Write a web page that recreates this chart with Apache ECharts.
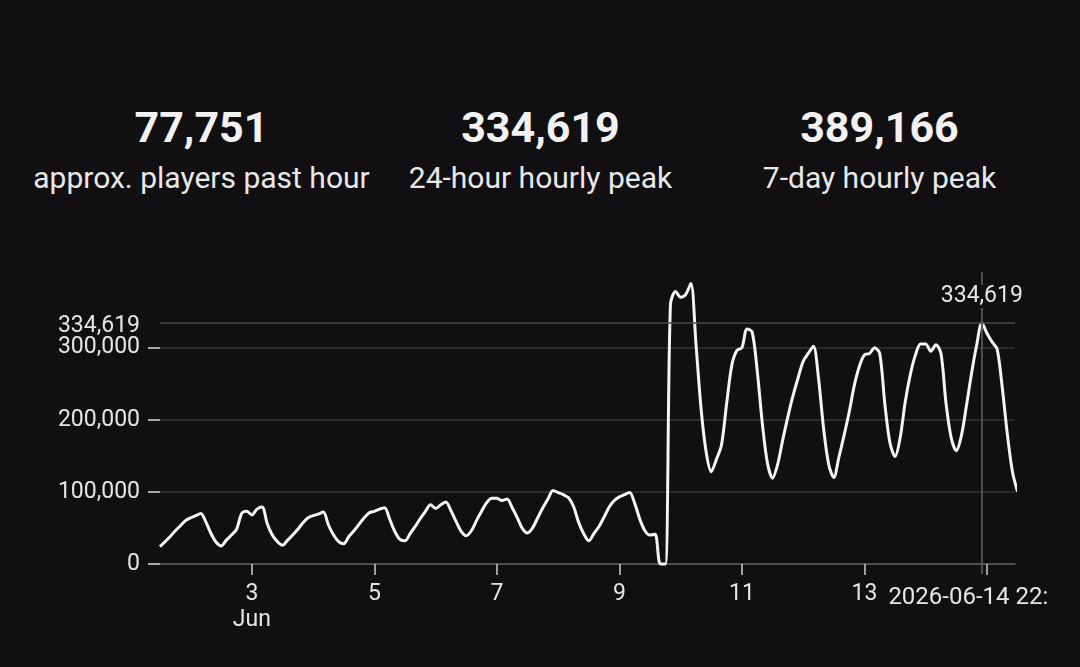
<!DOCTYPE html>
<html>
<head>
<meta charset="utf-8">
<title>Players</title>
<script src="https://cdn.jsdelivr.net/npm/echarts@6/dist/echarts.min.js"></script>
<style>
  html, body { margin: 0; padding: 0; background: #110f11; width: 1080px; height: 667px; overflow: hidden; font-family: Roboto, "Noto Sans", sans-serif; }
  .stat { position: absolute; top: 0; width: 339px; height: 220px; text-align: center; }
  .stat .num { position: absolute; left: 0; width: 100%; top: 106px; font-size: 43px; line-height: 43px; font-weight: 700; color: #f2f2f2; }
  .stat .lbl { position: absolute; left: 0; width: 100%; top: 163px; font-size: 30px; line-height: 30px; color: #e8e8e8; white-space: nowrap; }
  #main { position: absolute; left: 32px; top: 250px; width: 1017px; height: 417px; }
</style>
</head>
<body>
<div id="stats"></div>
<div id="main"></div>
<script>
// header numbers
var statValues = ['77,751', '334,619', '389,166'];
var statLabels = ['approx. players past hour', '24-hour hourly peak', '7-day hourly peak'];

// players, one value every 2 hours from 2026-06-01 12:00
var startTime = Date.UTC(2026, 5, 1, 12);
var endTime = Date.UTC(2026, 5, 15, 11);
var stepHours = 2;
var players = [
    24000, 31000, 38000, 46000, 53000, 60000, 64000, 67000, 70000, 58000, 42000, 30000,
    25000, 33000, 40000, 48000, 70000, 73000, 68000, 76000, 79000, 56000, 40000, 31000,
    26000, 33000, 40000, 48000, 57000, 64000, 67000, 69000, 72000, 54000, 40000, 31000,
    28000, 38000, 46000, 55000, 64000, 71000, 73000, 76000, 78000, 62000, 45000, 34000,
    32000, 42000, 52000, 63000, 73000, 82000, 77000, 82000, 86000, 74000, 59000, 45000,
    39000, 46000, 60000, 73000, 85000, 91000, 91000, 88000, 90000, 78000, 64000, 49000,
    43000, 50000, 64000, 78000, 90000, 102000, 99000, 96000, 92000, 80000, 58000, 42000,
    32000, 42000, 52000, 65000, 79000, 88000, 93000, 96000, 99000, 84000, 62000, 46000,
    40000, 41000, 0, 0, 360000, 378000, 370000, 374000, 389166, 305000, 215000, 155000,
    128000, 145000, 165000, 222000, 275000, 296000, 300000, 326000, 322000, 268000, 195000, 140000,
    119000, 138000, 172000, 204000, 233000, 258000, 281000, 292000, 302000, 258000, 188000, 138000,
    120000, 148000, 178000, 210000, 247000, 274000, 290000, 292000, 300000, 292000, 222000, 168000,
    149000, 175000, 225000, 263000, 290000, 305000, 305000, 295000, 304000, 292000, 222000, 175000,
    157000, 178000, 220000, 265000, 304000, 334619, 320000, 308000, 298000, 245000, 180000, 128000,
    100000
];

// axis ticks
var tickDays = [3, 5, 7, 9, 11, 13, 15];
var labelDays = [3, 5, 7, 9, 11, 13];
var yTicks = [0, 100000, 200000, 300000];

var HOUR = 3600 * 1000;
var points = players.map(function (v, i) {
    return [startTime + i * stepHours * HOUR, v];
});

// 24-hour peak for the crosshair
var last24 = points.slice(-12);
var peak = last24[0];
last24.forEach(function (p) { if (p[1] > peak[1]) peak = p; });

function fmtNum(v) {
    return Math.round(v).toLocaleString('en-US');
}
function pad(n) {
    return (n < 10 ? '0' : '') + n;
}
function fmtDate(t) {
    var d = new Date(t);
    return d.getUTCFullYear() + '-' + pad(d.getUTCMonth() + 1) + '-' + pad(d.getUTCDate()) +
        ' ' + pad(d.getUTCHours()) + ':' + pad(d.getUTCMinutes());
}
function dayTime(day) {
    return Date.UTC(2026, 5, day);
}

var statsBox = document.getElementById('stats');
for (var i = 0; i < statValues.length; i++) {
    var el = document.createElement('div');
    el.className = 'stat';
    el.style.left = (32 + i * 339) + 'px';
    el.innerHTML = '<div class="num">' + statValues[i] + '</div><div class="lbl">' + statLabels[i] + '</div>';
    statsBox.appendChild(el);
}

var font = 'Roboto';
var crossColor = '#555555';

var myChart = echarts.init(document.getElementById('main'));
var option = {
    backgroundColor: 'transparent',
    animation: false,
    grid: {
        left: 128,
        right: 34,
        top: 22,
        bottom: 93,
        containLabel: false,
        outerBoundsMode: 'none'
    },
    xAxis: {
        type: 'value',
        min: startTime,
        max: endTime,
        axisLine: {
            onZero: true,
            lineStyle: { color: '#5e5e5e', width: 1.5 }
        },
        axisTick: {
            show: true,
            customValues: tickDays.map(dayTime),
            length: 11,
            lineStyle: { color: '#d0d0d0', width: 1.5 }
        },
        axisLabel: {
            customValues: labelDays.map(dayTime),
            margin: 7,
            color: '#e6e6e6',
            fontSize: 23,
            lineHeight: 26,
            fontFamily: font,
            formatter: function (v) {
                var d = new Date(v);
                return d.getUTCDate() === 3 ? '3\nJun' : String(d.getUTCDate());
            }
        },
        splitLine: { show: false }
    },
    yAxis: {
        type: 'value',
        min: -14000,
        max: 405000,
        axisLine: { show: false },
        axisTick: {
            show: true,
            customValues: yTicks,
            length: 12,
            lineStyle: { color: '#dcdcdc', width: 1.5 }
        },
        axisLabel: {
            customValues: yTicks,
            margin: 20,
            color: '#e6e6e6',
            fontSize: 23,
            fontFamily: font,
            formatter: function (v) { return fmtNum(v); }
        },
        splitLine: {
            show: true,
            lineStyle: { color: '#363636', width: 1.5 }
        }
    },
    series: [
        {
            name: 'players',
            type: 'line',
            data: points,
            showSymbol: false,
            smooth: 0.3,
            clip: false,
            silent: true,
            lineStyle: { color: '#f4f4f4', width: 3 },
            markLine: {
                silent: true,
                animation: false,
                symbol: ['none', 'none'],
                emphasis: { disabled: true },
                data: [
                    {
                        yAxis: peak[1],
                        lineStyle: { color: '#4a4a4a', width: 1.5, type: 'solid' },
                        label: {
                            position: 'start',
                            distance: 20,
                            offset: [0, 4],
                            formatter: fmtNum(peak[1]),
                            color: '#e6e6e6',
                            fontSize: 23,
                            fontFamily: font
                        }
                    },
                    {
                        xAxis: peak[0],
                        lineStyle: { color: crossColor, width: 1.5, type: 'solid' },
                        label: {
                            position: 'start',
                            distance: 12,
                            formatter: fmtDate(peak[0]),
                            color: '#e6e6e6',
                            fontSize: 24,
                            fontFamily: font
                        }
                    },
                    {
                        xAxis: peak[0],
                        lineStyle: { color: crossColor, width: 1.5, type: 'solid' },
                        label: {
                            position: 'end',
                            distance: -36,
                            formatter: fmtNum(peak[1]),
                            color: '#e6e6e6',
                            fontSize: 23,
                            fontFamily: font,
                            backgroundColor: '#110f11',
                            padding: [0, 2]
                        }
                    }
                ]
            }
        }
    ]
};

myChart.setOption(option);
</script>
</body>
</html>
